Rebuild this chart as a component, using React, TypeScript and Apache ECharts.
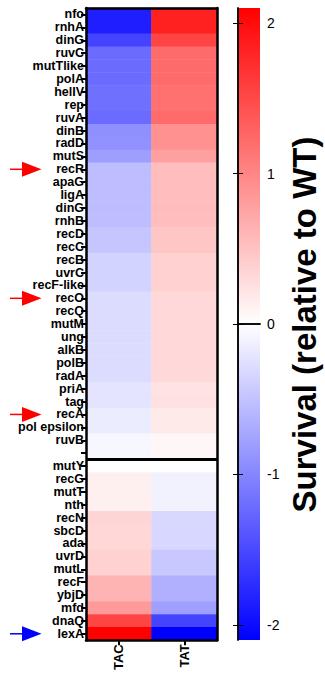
import React, { useEffect, useRef } from "react";
import * as echarts from "echarts";

const genes = [
  "nfo", "rnhA", "dinG", "ruvC", "mutTlike", "polA", "helIV", "rep", "ruvA", "dinB",
  "radD", "mutS", "recR", "apaG", "ligA", "dinG", "rnhB", "recD", "recC", "recB",
  "uvrC", "recF-like", "recO", "recQ", "mutM", "ung", "alkB", "polB", "radA", "priA",
  "tag", "recA", "pol epsilon", "ruvB", " ", "mutY", "recG", "mutT", "nth", "recN",
  "sbcD", "ada", "uvrD", "mutL", "recF", "ybjD", "mfd", "dnaQ", "lexA",
];
const conditions = ["TAC", "TAT"];
const tacValues = [
  -1.85, -1.85, -1.54, -1.22, -1.22, -1.22, -1.18, -1.18, -1.22, -0.92,
  -0.91, -0.8, -0.54, -0.54, -0.54, -0.54, -0.54, -0.47, -0.47, -0.36,
  -0.36, -0.36, -0.29, -0.29, -0.29, -0.29, -0.29, -0.29, -0.29, -0.22,
  -0.22, -0.16, -0.16, -0.07, -0.07, 0, 0.12, 0.12, 0.12, 0.35,
  0.33, 0.33, 0.38, 0.38, 0.62, 0.62, 0.83, 1.54, 2.1,
];
const tatValues = [
  1.84, 1.84, 1.54, 1.22, 1.22, 1.22, 1.18, 1.18, 1.22, 0.91,
  0.91, 0.78, 0.54, 0.54, 0.54, 0.54, 0.54, 0.47, 0.47, 0.38,
  0.38, 0.38, 0.31, 0.31, 0.31, 0.31, 0.31, 0.31, 0.31, 0.24,
  0.25, 0.17, 0.17, 0.07, 0.07, 0, -0.11, -0.11, -0.11, -0.32,
  -0.33, -0.33, -0.45, -0.45, -0.65, -0.65, -0.79, -1.54, -2.1,
];
const colorbarTicks = [-2, -1, 0, 1, 2];
const colorMin = -2.1;
const colorMax = 2.1;
const colorScale = ["#0000ff", "#ffffff", "#ff0000"];
const redArrowGenes = ["recR", "recO", "recA"];
const blueArrowGenes = ["lexA"];
const separatorAfter = " ";

const FONT = "'Liberation Sans', Arial, sans-serif";
const GRID = { left: 86, top: 8, width: 131, height: 633 };
const BAR = { left: 238, top: 8, width: 22, height: 632 };

export default function App() {
  const ref = useRef<HTMLDivElement>(null);

  useEffect(() => {
    if (!ref.current) return;
    const chart = echarts.init(ref.current, null, { renderer: "svg" });

    const data: number[][] = [];
    genes.forEach((_, i) => {
      data.push([0, i, tacValues[i]]);
      data.push([1, i, tatValues[i]]);
    });

    const borderLine = { show: true, lineStyle: { color: "#000", width: 2.5 } };
    const barLine = { show: true, lineStyle: { color: "#000", width: 1.5 } };

    chart.setOption({
      animation: false,
      backgroundColor: "#fff",
      textStyle: { fontFamily: FONT },
      grid: [{ ...GRID }, { ...BAR }],
      visualMap: {
        type: "continuous",
        show: false,
        seriesIndex: 0,
        dimension: 2,
        min: colorMin,
        max: colorMax,
        inRange: { color: colorScale },
      },
      xAxis: [
        {
          type: "category",
          gridIndex: 0,
          data: conditions,
          position: "bottom",
          z: 10,
          axisLine: borderLine,
          axisTick: { show: true, alignWithLabel: true, length: 5, lineStyle: { color: "#000", width: 2 } },
          axisLabel: { rotate: 90, fontWeight: "bold", fontSize: 13, color: "#000", margin: 4, fontFamily: FONT },
          splitLine: { show: false },
        },
        {
          type: "category",
          gridIndex: 0,
          data: conditions,
          position: "top",
          z: 10,
          axisLine: borderLine,
          axisTick: { show: false },
          axisLabel: { show: false },
        },
        {
          type: "value",
          gridIndex: 1,
          min: 0,
          max: 1,
          position: "bottom",
          z: 10,
          axisLine: barLine,
          axisTick: { show: false },
          axisLabel: { show: false },
          splitLine: { show: false },
        },
        {
          type: "value",
          gridIndex: 1,
          min: 0,
          max: 1,
          position: "top",
          z: 10,
          axisLine: barLine,
          axisTick: { show: false },
          axisLabel: { show: false },
          splitLine: { show: false },
        },
      ],
      yAxis: [
        {
          type: "category",
          gridIndex: 0,
          data: genes,
          inverse: true,
          position: "left",
          z: 10,
          axisLine: borderLine,
          axisTick: { show: true, alignWithLabel: true, interval: 0, length: 5, lineStyle: { color: "#000", width: 2 } },
          axisLabel: {
            interval: 0,
            fontWeight: "bold",
            fontSize: 12.5,
            lineHeight: 11,
            color: "#000",
            margin: 2,
            fontFamily: FONT,
          },
          splitLine: { show: false },
        },
        {
          type: "category",
          gridIndex: 0,
          data: genes,
          inverse: true,
          position: "right",
          z: 10,
          axisLine: borderLine,
          axisTick: { show: false },
          axisLabel: { show: false },
        },
        {
          type: "value",
          gridIndex: 1,
          min: colorMin,
          max: colorMax,
          position: "left",
          z: 10,
          axisLine: barLine,
          axisTick: { show: true, inside: true, length: 5, customValues: colorbarTicks, lineStyle: { color: "#000", width: 1 } },
          axisLabel: { show: false },
          splitLine: { show: false },
        },
        {
          type: "value",
          gridIndex: 1,
          min: colorMin,
          max: colorMax,
          position: "right",
          z: 10,
          axisLine: barLine,
          axisTick: { show: true, inside: true, length: 5, customValues: colorbarTicks, lineStyle: { color: "#000", width: 1 } },
          axisLabel: { show: true, customValues: colorbarTicks, fontSize: 14, color: "#000", margin: 7, fontFamily: FONT },
          splitLine: { show: false },
        },
      ],
      series: [
        {
          type: "heatmap",
          xAxisIndex: 0,
          yAxisIndex: 0,
          data,
          z: 2,
          emphasis: { disabled: true },
          itemStyle: { borderWidth: 0 },
        },
      ],
    });

    const yOf = (i: number) => chart.convertToPixel({ yAxisIndex: 0 }, i) as number;
    const sepIdx = genes.indexOf(separatorAfter);
    const sepY = (yOf(sepIdx) + yOf(sepIdx + 1)) / 2;

    const arrow = (name: string, color: string) => {
      const y = yOf(genes.indexOf(name));
      return {
        type: "group",
        x: 0,
        y,
        children: [
          { type: "line", shape: { x1: 10, y1: 0, x2: 25, y2: 0 }, style: { stroke: color, lineWidth: 1.5 } },
          { type: "polygon", shape: { points: [[22, -7.5], [41.5, 0], [22, 7.5]] }, style: { fill: color } },
        ],
      };
    };

    chart.setOption({
      graphic: [
        {
          type: "rect",
          z: 1,
          shape: { x: BAR.left, y: BAR.top, width: BAR.width, height: BAR.height },
          style: {
            fill: new echarts.graphic.LinearGradient(0, 0, 0, 1, [
              { offset: 0, color: colorScale[2] },
              { offset: 0.5, color: colorScale[1] },
              { offset: 1, color: colorScale[0] },
            ]),
          },
        },
        {
          type: "line",
          z: 20,
          shape: { x1: GRID.left, y1: sepY, x2: GRID.left + GRID.width, y2: sepY },
          style: { stroke: "#000", lineWidth: 3 },
        },
        ...redArrowGenes.map((g) => arrow(g, "#ff0000")),
        ...blueArrowGenes.map((g) => arrow(g, "#0000ff")),
        {
          type: "text",
          x: 304,
          y: GRID.top + GRID.height / 2,
          rotation: Math.PI / 2,
          style: {
            text: "Survival (relative to WT)",
            font: `bold 33px ${FONT}`,
            fill: "#000",
            align: "center",
            verticalAlign: "middle",
          },
        },
      ],
    });

    return () => chart.dispose();
  }, []);

  return (
    <div
      ref={ref}
      style={{ position: "fixed", left: 0, top: 0, width: 325, height: 673 }}
    />
  );
}
